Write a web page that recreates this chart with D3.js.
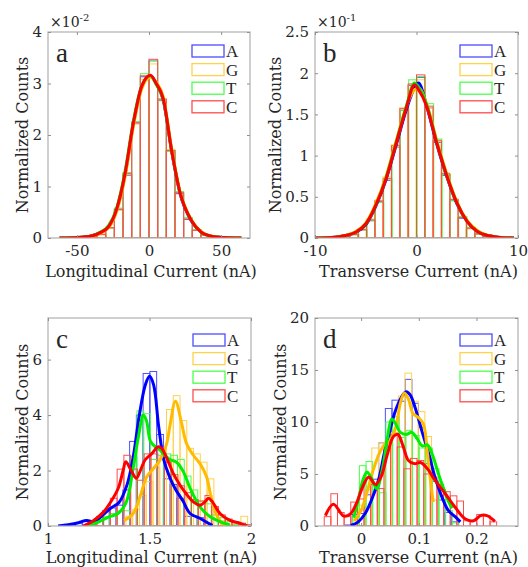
<!DOCTYPE html>
<html>
<head>
<meta charset="utf-8">
<script src="https://cdn.jsdelivr.net/npm/d3@7"></script>
<style>
  body { margin: 0; background: #fff; }
  svg text { font-family: "DejaVu Serif", serif; fill: #262626; }
</style>
</head>
<body>
<svg id="fig" width="528" height="567"></svg>
<script>
// series order: A, G, T, C
const seriesNames = ['A', 'G', 'T', 'C'];

// ---- panel a : longitudinal current, wide distribution (x10^-2)
const aBinStarts = [-60, -60, -60, -60];
const aBinWidth = 6;
const aHistA = [0.005,0.005,0.01,0.02,0.07,0.19,0.55,1.22,2.25,3.13,3.44,2.67,1.69,0.86,0.36,0.15,0.06,0.02,0.01,0.005];
const aHistG = [0.005,0.005,0.01,0.02,0.06,0.19,0.54,1.24,2.21,3.08,3.38,2.66,1.72,0.9,0.39,0.16,0.06,0.02,0.01,0.005];
const aHistT = [0.005,0.005,0.01,0.02,0.07,0.2,0.58,1.27,2.26,3.19,3.45,2.69,1.68,0.9,0.4,0.16,0.06,0.02,0.01,0.005];
const aHistC = [0.005,0.005,0.01,0.02,0.07,0.2,0.56,1.25,2.23,3.15,3.47,2.7,1.7,0.88,0.37,0.15,0.06,0.02,0.01,0.005];
const aCurveX = [-62,-50,-40,-34,-28,-22.4,-16.6,-10.8,-5,1,5,9.9,15.7,21.5,29.6,36,44,52,64];
const aCurveA = [0,0.01,0.04,0.1,0.21,0.55,1.23,2.22,2.94,3.15,3.0,2.68,1.69,0.87,0.32,0.12,0.03,0.01,0];
const aCurveG = [0,0.01,0.03,0.09,0.2,0.52,1.19,2.17,2.9,3.12,3.02,2.74,1.74,0.9,0.34,0.13,0.03,0.01,0];
const aCurveT = [0,0.01,0.04,0.11,0.24,0.58,1.29,2.27,2.96,3.15,2.98,2.68,1.69,0.88,0.33,0.12,0.03,0.01,0];
const aCurveC = [0,0.01,0.04,0.1,0.22,0.56,1.25,2.24,2.95,3.16,3.0,2.7,1.7,0.88,0.33,0.12,0.03,0.01,0];
const aXTicks = [-50, 0, 50];
const aYTicks = [0, 1, 2, 3, 4];

// ---- panel b : transverse current, wide distribution (x10^-1)
const bBinStarts = [-8.2, -8.23, -8.15, -8.2];
const bBinWidth = 0.82;
const bHistA = [0.01,0.02,0.05,0.1,0.21,0.44,0.7,1.1,1.55,1.85,1.95,1.58,1.16,0.76,0.46,0.24,0.12,0.05,0.02,0.01];
const bHistG = [0.01,0.02,0.05,0.11,0.23,0.46,0.74,1.13,1.58,1.86,1.92,1.58,1.19,0.79,0.47,0.25,0.11,0.05,0.02,0.01];
const bHistT = [0.01,0.02,0.04,0.1,0.21,0.43,0.72,1.1,1.55,1.92,1.96,1.63,1.2,0.77,0.45,0.26,0.13,0.05,0.02,0.01];
const bHistC = [0.01,0.02,0.04,0.1,0.22,0.45,0.72,1.12,1.57,1.87,1.98,1.6,1.18,0.78,0.47,0.25,0.12,0.05,0.02,0.01];
const bCurveX = [-10,-8,-7,-6,-5,-4,-3,-2,-1,-0.2,0.2,1,2,3,4,5,6,7,8,9.6];
const bCurveA = [0,0.01,0.03,0.07,0.16,0.39,0.71,1.13,1.56,1.82,1.88,1.6,1.14,0.74,0.41,0.2,0.08,0.03,0.01,0];
const bCurveG = [0,0.01,0.03,0.08,0.18,0.42,0.75,1.18,1.6,1.8,1.82,1.63,1.18,0.77,0.43,0.21,0.09,0.03,0.01,0];
const bCurveT = [0,0.01,0.03,0.07,0.17,0.4,0.73,1.16,1.6,1.88,1.83,1.62,1.16,0.75,0.42,0.2,0.08,0.03,0.01,0];
const bCurveC = [0,0.01,0.03,0.07,0.17,0.4,0.72,1.15,1.58,1.86,1.8,1.6,1.15,0.75,0.42,0.2,0.08,0.03,0.01,0];
const bXTicks = [-10, 0, 10];
const bYTicks = [0, 0.5, 1, 1.5, 2, 2.5];

// ---- panel c : longitudinal current, narrow distribution
const cBinStarts = [1.069, 1.384, 1.205, 1.174];
const cBinWidth = 0.0333;
const cHistA = [0.05,0.05,0.1,0.2,0.15,0.2,0.55,0.65,0.75,1.3,3.05,4.0,5.5,5.57,3.3,1.7,1.5,1.0,0.35,0.35,0.3,0.1];
const cHistG = [0.35,0.6,1.1,1.6,2.1,2.55,4.2,4.7,3.8,2.8,2.6,2.3,1.7,0.5,0.2,0.05,0.1,0.35];
const cHistT = [0.1,0.2,0.35,0.45,0.55,0.55,2.5,4.15,4.05,2.4,2.55,2.6,2.55,2.4,1.8,1.3,0.9,0.8,0.4,0.3,0.15,0.05];
const cHistC = [0.05,0.15,0.35,0.55,1.0,2.05,2.55,2.05,1.65,2.6,2.6,2.75,2.3,1.85,1.45,1.2,0.95,0.9,1.1,0.7,0.4,0.25,0.15,0.1,0.05];
const cCurveAX = [1.05,1.10,1.15,1.19,1.23,1.27,1.31,1.35,1.39,1.42,1.45,1.48,1.50,1.52,1.545,1.57,1.60,1.63,1.665,1.70,1.75,1.79,1.81];
const cCurveAY = [0,0.05,0.12,0.2,0.15,0.4,0.65,0.85,1.5,2.5,4.0,5.1,5.4,5.1,3.6,2.4,1.75,1.3,0.9,0.45,0.27,0.1,0.02];
const cCurveGX = [1.375,1.42,1.453,1.486,1.519,1.552,1.585,1.60,1.628,1.658,1.682,1.715,1.748,1.781,1.806,1.83,1.855,1.88];
const cCurveGY = [0.2,0.45,1.05,1.77,2.07,2.38,2.98,3.59,4.5,3.71,2.98,2.56,2.26,1.78,0.94,0.4,0.1,0.02];
const cCurveTX = [1.19,1.25,1.30,1.345,1.385,1.42,1.445,1.47,1.485,1.505,1.53,1.55,1.575,1.60,1.633,1.666,1.70,1.748,1.797,1.847,1.896];
const cCurveTY = [0,0.15,0.33,0.45,0.85,2.1,3.2,4.0,3.8,3.05,2.85,2.75,2.55,2.4,2.3,1.97,1.36,0.7,0.34,0.16,0.04];
const cCurveCX = [1.175,1.225,1.273,1.305,1.346,1.37,1.383,1.41,1.435,1.455,1.478,1.51,1.543,1.56,1.585,1.617,1.65,1.68,1.716,1.749,1.773,1.79,1.81,1.847,1.896,1.945,1.98];
const cCurveCY = [0,0.2,0.5,0.82,1.36,2.0,2.32,2.0,1.72,2.0,2.38,2.6,2.86,2.8,2.45,1.9,1.48,1.17,0.87,0.75,0.87,1.0,0.87,0.45,0.2,0.1,0];
const cXTicks = [1, 1.5, 2];
const cYTicks = [0, 2, 4, 6];

// ---- panel d : transverse current, narrow distribution
const dBinStarts = [-0.027, -0.016, -0.0145, -0.064];
const dBinWidth = 0.0115;
const dHistA = [0.1,1.1,1.2,3.0,4.5,8.0,11.3,12.1,12.0,14.1,11.8,9.5,6.0,4.3,2.5,1.3,0.4];
const dHistG = [0.5,2.0,3.5,7.5,8.0,8.2,9.0,12.5,14.7,12.0,11.0,8.6,2.5];
const dHistT = [0.9,5.8,6.2,3.5,3.2,10.0,10.5,8.5,9.2,8.7,7.5,7.5,5.5,3.5,1.5,0.3];
const dHistC = [0.9,3.1,1.3,0.9,2.3,2.6,4.6,4.0,3.6,7.5,8.8,7.6,5.5,6.5,6.3,5.0,4.7,4.0,3.3,2.9,2.4,0.5,0.5,1.1,1.0,0.4];
const dCurveAX = [-0.018,-0.005,0.007,0.018,0.03,0.041,0.05,0.059,0.07,0.078,0.085,0.093,0.105,0.117,0.128,0.14,0.151,0.163,0.172];
const dCurveAY = [0.05,0.4,1.2,2.5,4.4,7.2,9.2,11.0,12.4,12.9,12.6,11.5,9.2,7.0,4.7,2.8,1.5,0.9,0.4];
const dCurveGX = [-0.012,0.0,0.01,0.02,0.03,0.04,0.05,0.06,0.068,0.075,0.082,0.09,0.1,0.108,0.115,0.12,0.125];
const dCurveGY = [0.5,1.5,3.2,5.2,6.8,7.8,8.2,9.5,11.8,12.8,12.2,10.8,10.4,9.8,7.0,4.5,2.3];
const dCurveTX = [-0.013,-0.005,0.003,0.01,0.017,0.027,0.037,0.046,0.053,0.06,0.068,0.078,0.088,0.097,0.106,0.115,0.124,0.133,0.143,0.152,0.158];
const dCurveTY = [0.8,2.5,4.4,5.2,4.7,3.6,5.5,8.6,10.3,9.8,9.0,8.8,9.0,8.4,7.7,7.8,6.8,5.2,3.6,2.3,1.7];
const dCurveCX = [-0.062,-0.048,-0.03,-0.018,-0.008,0.003,0.013,0.025,0.035,0.045,0.056,0.064,0.072,0.082,0.092,0.103,0.115,0.128,0.146,0.163,0.18,0.195,0.207,0.218,0.232];
const dCurveCY = [1.0,2.1,0.95,1.2,2.2,3.8,4.7,4.0,4.8,6.8,8.6,8.8,7.8,6.3,6.0,6.1,5.5,4.4,3.1,1.8,0.7,0.5,1.0,1.0,0.45];
const dXTicks = [0, 0.1, 0.2];
const dYTicks = [0, 5, 10, 15, 20];

const lineColor = { A: '#0000ff', G: '#ffbb00', T: '#00ee00', C: '#ff0000' };
const barColor = { A: '#4d4dff', G: '#ffd24d', T: '#4dff4d', C: '#ff4d4d' };

const panels = [
  { letter: 'a', box: [48, 32, 250, 238], x: [-70, 70], y: [0, 4], xt: aXTicks, yt: aYTicks, exp: '-2',
    xLabel: 'Longitudinal Current (nA)', starts: aBinStarts, width: aBinWidth,
    hist: [aHistA, aHistG, aHistT, aHistC],
    curves: [[aCurveX, aCurveA], [aCurveX, aCurveG], [aCurveX, aCurveT], [aCurveX, aCurveC]],
    smooth: d3.curveMonotoneX, legendTop: 19, yLabelGap: 20, xLabelGap: 39 },
  { letter: 'b', box: [315, 32, 518, 238], x: [-10, 10], y: [0, 2.5], xt: bXTicks, yt: bYTicks, exp: '-1',
    xLabel: 'Transverse Current (nA)', starts: bBinStarts, width: bBinWidth,
    hist: [bHistA, bHistG, bHistT, bHistC],
    curves: [[bCurveX, bCurveA], [bCurveX, bCurveG], [bCurveX, bCurveT], [bCurveX, bCurveC]],
    smooth: d3.curveMonotoneX, legendTop: 19, yLabelGap: 34, xLabelGap: 39 },
  { letter: 'c', box: [48, 318, 251, 526], x: [1, 2], y: [0, 7.5], xt: cXTicks, yt: cYTicks, exp: null,
    xLabel: 'Longitudinal Current (nA)', starts: cBinStarts, width: cBinWidth,
    hist: [cHistA, cHistG, cHistT, cHistC],
    curves: [[cCurveAX, cCurveAY], [cCurveGX, cCurveGY], [cCurveTX, cCurveTY], [cCurveCX, cCurveCY]],
    smooth: d3.curveCatmullRom.alpha(0.5), legendTop: 22, yLabelGap: 20, xLabelGap: 37 },
  { letter: 'd', box: [315, 318, 518, 526], x: [-0.08, 0.272], y: [0, 20], xt: dXTicks, yt: dYTicks, exp: null,
    xLabel: 'Transverse Current (nA)', starts: dBinStarts, width: dBinWidth,
    hist: [dHistA, dHistG, dHistT, dHistC],
    curves: [[dCurveAX, dCurveAY], [dCurveGX, dCurveGY], [dCurveTX, dCurveTY], [dCurveCX, dCurveCY]],
    smooth: d3.curveCatmullRom.alpha(0.5), legendTop: 22, yLabelGap: 29, xLabelGap: 37 }
];

const svg = d3.select('#fig');
const fmt = d => String(d);

panels.forEach((p, pi) => {
  const [x0, y0, x1, y1] = p.box;
  const xs = d3.scaleLinear().domain(p.x).range([x0, x1]);
  const ys = d3.scaleLinear().domain(p.y).range([y1, y0]);
  const g = svg.append('g');

  const clipId = 'clip' + pi;
  g.append('clipPath').attr('id', clipId)
    .append('rect').attr('x', x0).attr('y', y0 - 2).attr('width', x1 - x0).attr('height', y1 - y0 + 2);

  const plot = g.append('g').attr('clip-path', `url(#${clipId})`);

  // histograms (outlined bars)
  seriesNames.forEach((s, si) => {
    const vals = p.hist[si];
    plot.append('g').selectAll('rect')
      .data(vals)
      .join('rect')
      .attr('x', (d, i) => xs(p.starts[si] + i * p.width))
      .attr('width', (d, i) => xs(p.starts[si] + (i + 1) * p.width) - xs(p.starts[si] + i * p.width))
      .attr('y', d => ys(d))
      .attr('height', d => ys(0) - ys(d))
      .attr('fill', 'none')
      .attr('stroke', barColor[s])
      .attr('stroke-width', 1);
  });

  // density curves
  seriesNames.forEach((s, si) => {
    const [cx, cy] = p.curves[si];
    const pts = cx.map((v, i) => [v, cy[i]]);
    const line = d3.line().x(d => xs(d[0])).y(d => ys(d[1])).curve(p.smooth);
    plot.append('path')
      .attr('d', line(pts))
      .attr('fill', 'none')
      .attr('stroke', lineColor[s])
      .attr('stroke-width', 3)
      .attr('stroke-linejoin', 'round');
  });

  // box
  g.append('rect').attr('x', x0).attr('y', y0).attr('width', x1 - x0).attr('height', y1 - y0)
    .attr('fill', 'none').attr('stroke', '#b0b0b0').attr('stroke-width', 1.2);

  // axes, ticks pointing inward
  const styleAxis = sel => {
    sel.select('.domain').remove();
    sel.selectAll('.tick line').attr('stroke', '#909090');
    sel.selectAll('.tick text').style('font-size', '15px').attr('fill', '#262626');
  };
  g.append('g').attr('transform', `translate(0,${y1})`)
    .call(d3.axisBottom(xs).tickValues(p.xt).tickFormat(fmt).tickSize(-3).tickPadding(7))
    .call(styleAxis);
  g.append('g').attr('transform', `translate(0,${y0})`)
    .call(d3.axisTop(xs).tickValues(p.xt).tickFormat('').tickSize(-3))
    .call(styleAxis);
  g.append('g').attr('transform', `translate(${x0},0)`)
    .call(d3.axisLeft(ys).tickValues(p.yt).tickFormat(fmt).tickSize(-3).tickPadding(6))
    .call(styleAxis);
  g.append('g').attr('transform', `translate(${x1},0)`)
    .call(d3.axisRight(ys).tickValues(p.yt).tickFormat('').tickSize(-3))
    .call(styleAxis);
  g.selectAll('.tick text').attr('font-family', null);

  // axis labels
  g.append('text')
    .attr('x', (x0 + x1) / 2 + 2).attr('y', y1 + p.xLabelGap)
    .attr('text-anchor', 'middle').style('font-size', '16px')
    .text(p.xLabel);
  g.append('text')
    .attr('transform', `translate(${x0 - p.yLabelGap},${(y0 + y1) / 2}) rotate(-90)`)
    .attr('text-anchor', 'middle').style('font-size', '16px')
    .text('Normalized Counts');

  // exponent
  if (p.exp) {
    const t = g.append('text').attr('x', x0 + 2).attr('y', y0 - 5).style('font-size', '14px');
    t.append('tspan').text('\u00d710');
    t.append('tspan').attr('dy', -6).style('font-size', '10px').text(p.exp);
  }

  // panel letter
  g.append('text')
    .attr('x', x0 + 8).attr('y', y0 + 30)
    .style('font-family', '"Liberation Serif", serif')
    .style('font-size', '27px')
    .text(p.letter);

  // legend
  const lx = x1 - 58, rowH = 18.6;
  seriesNames.forEach((s, si) => {
    const cy = y0 + p.legendTop + si * rowH;
    g.append('rect').attr('x', lx).attr('y', cy - 6).attr('width', 32).attr('height', 12)
      .attr('fill', '#fff').attr('stroke', barColor[s]).attr('stroke-width', 1.3);
    g.append('text').attr('x', lx + 34).attr('y', cy + 6)
      .style('font-family', '"Liberation Serif", serif').style('font-size', '17px')
      .text(s);
  });
});
</script>
</body>
</html>
